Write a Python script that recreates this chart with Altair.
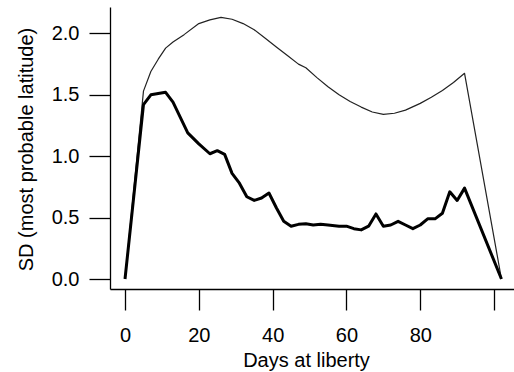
import altair as alt
import pandas as pd

# Thick line: SD of most probable latitude
days_mean = [0, 5, 7, 11, 13, 17, 20, 23, 25, 27, 29, 31, 33, 35, 37, 39, 41, 43, 45, 47,
             49, 51, 53, 55, 58, 60, 62, 64, 66, 68, 70, 72, 74, 76, 78, 80, 82, 84, 86, 88,
             90, 92, 102]
sd_mean = [0, 1.42, 1.50, 1.52, 1.44, 1.19, 1.10, 1.02, 1.045, 1.015, 0.86, 0.78, 0.67, 0.64,
           0.66, 0.70, 0.58, 0.47, 0.43, 0.445, 0.45, 0.44, 0.445, 0.44, 0.43, 0.43, 0.41,
           0.40, 0.43, 0.53, 0.43, 0.44, 0.47, 0.44, 0.41, 0.44, 0.49, 0.49, 0.535, 0.71,
           0.64, 0.74, 0]

# Thin line: upper curve
days_max = [0, 5, 7, 9, 11, 13, 16, 20, 23, 26, 29, 32, 35, 38, 41, 44, 47, 49, 52, 55, 58,
            61, 64, 67, 70, 73, 76, 80, 83, 86, 89, 92, 102]
sd_max = [0, 1.53, 1.69, 1.79, 1.88, 1.93, 1.99, 2.08, 2.11, 2.13, 2.115, 2.08, 2.03, 1.96,
          1.89, 1.82, 1.75, 1.72, 1.64, 1.565, 1.50, 1.445, 1.40, 1.36, 1.34, 1.35, 1.375,
          1.43, 1.48, 1.535, 1.60, 1.675, 0]

x_ticks = [0, 20, 40, 60, 80, 100]
y_ticks = [0, 0.5, 1.0, 1.5, 2.0]

df_mean = pd.DataFrame({"day": days_mean, "sd": sd_mean})
df_max = pd.DataFrame({"day": days_max, "sd": sd_max})

FONT = "Liberation Sans"

x_enc = alt.X(
    "day:Q",
    scale=alt.Scale(domain=[-4.07, 105.4], nice=False, zero=False),
    axis=alt.Axis(
        values=x_ticks,
        labelExpr="datum.value == 100 ? '' : datum.label",
        title="Days at liberty",
        titleX=196,
        titleY=77.5,
        titleAlign="center",
        titleBaseline="alphabetic",
        labelPadding=15,
        labelFlush=False,
        labelOverlap=False,
    ),
)
y_enc = alt.Y(
    "sd:Q",
    scale=alt.Scale(domain=[-0.0814, 2.215], nice=False, zero=False),
    axis=alt.Axis(
        values=y_ticks,
        format=".1f",
        title="SD (most probable latitude)",
        titleAngle=270,
        titleX=-78,
        titleY=142,
        titleAlign="center",
        titleBaseline="alphabetic",
        labelPadding=10,
        labelFlush=False,
        labelOverlap=False,
    ),
)

thin = alt.Chart(df_max).mark_line(
    color="#222222", strokeWidth=1.2, strokeJoin="round"
).encode(x=x_enc, y=y_enc)

thick = alt.Chart(df_mean).mark_line(
    color="black", strokeWidth=3, strokeJoin="round"
).encode(x=x_enc, y=y_enc)

chart = (
    alt.layer(thin, thick)
    .properties(
        width=404,
        height=282,
        autosize=alt.AutoSizeParams(type="none"),
        padding={"left": 110, "top": 7, "right": 0, "bottom": 83},
        background="white",
    )
    .configure_view(stroke=None)
    .configure_axis(
        grid=False,
        domainColor="black",
        domainWidth=1.3,
        tickColor="black",
        tickWidth=1.3,
        tickSize=21,
        labelFont=FONT,
        labelFontSize=20,
        labelColor="black",
        titleFont=FONT,
        titleFontSize=20,
        titleFontWeight="normal",
        titleColor="black",
    )
)

chart.save("out.html", embed_options={"renderer": "svg", "actions": False})
